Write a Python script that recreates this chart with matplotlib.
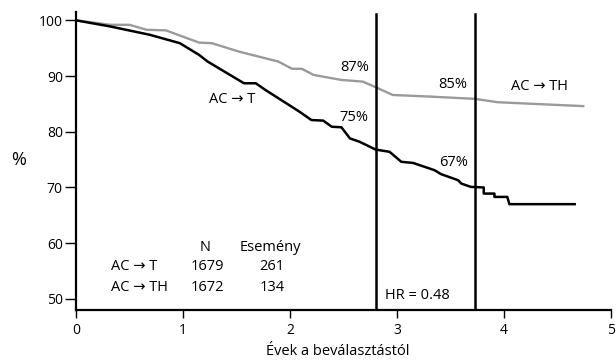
import matplotlib
matplotlib.use('Agg')
import matplotlib.pyplot as plt

plt.rcParams['font.family'] = ['Open Sans', 'DejaVu Sans']

# AC -> T (fekete görbe)
t_black = [0, 0.32, 0.69, 0.97, 1.15, 1.23, 1.57, 1.68, 1.77, 2.08, 2.20, 2.31,
           2.39, 2.48, 2.56, 2.65, 2.80, 2.93, 3.04, 3.15, 3.35, 3.41, 3.57,
           3.60, 3.69, 3.81, 3.81, 3.91, 3.91, 4.03, 4.05, 4.66]
s_black = [100, 98.9, 97.4, 95.9, 93.8, 92.6, 88.7, 88.7, 87.5, 83.7, 82.1, 82.0,
           80.9, 80.8, 78.8, 78.2, 76.8, 76.4, 74.6, 74.4, 73.1, 72.4, 71.3,
           70.7, 70.1, 70.0, 68.9, 68.9, 68.3, 68.3, 67.0, 67.0]

# AC -> TH (szürke görbe)
t_gray = [0, 0.32, 0.50, 0.66, 0.84, 1.15, 1.27, 1.52, 1.89, 2.02, 2.11, 2.22,
          2.48, 2.68, 2.80, 2.96, 3.32, 3.73, 3.94, 4.74]
s_gray = [100, 99.2, 99.2, 98.3, 98.2, 96.0, 95.9, 94.4, 92.6, 91.3, 91.3, 90.2,
          89.3, 89.0, 88.0, 86.6, 86.3, 85.9, 85.3, 84.6]

vline_x = [2.80, 3.73]
xticks = [0, 1, 2, 3, 4, 5]
yticks = [50, 60, 70, 80, 90, 100]

arm_names = ['AC \u2192 T', 'AC \u2192 TH']
arm_n = [1679, 1672]
arm_events = [261, 134]

fig = plt.figure(figsize=(6.16, 3.63), dpi=100)
ax = fig.add_axes([0.1234, 0.146, 0.8686, 0.821])

ax.plot(t_gray, s_gray, color='#9a9a9a', lw=1.7)
ax.plot(t_black, s_black, color='black', lw=1.8)
for xv in vline_x:
    ax.plot([xv, xv], [48, 101.2], color='black', lw=1.8)

ax.set_xlim(0, 5)
ax.set_ylim(48, 101.5)
ax.set_xticks(xticks)
ax.set_yticks(yticks)
for s in ['top', 'right']:
    ax.spines[s].set_visible(False)
for s in ['left', 'bottom']:
    ax.spines[s].set_linewidth(1.6)
ax.tick_params(axis='y', length=8, width=1, labelsize=10, pad=1.5)
ax.tick_params(axis='x', length=6, width=1, labelsize=10, pad=3)

fs = 10.5
ax.text(2.60, 91.6, '87%', ha='center', va='center', fontsize=fs)
ax.text(3.52, 88.4, '85%', ha='center', va='center', fontsize=fs)
ax.text(2.60, 82.5, '75%', ha='center', va='center', fontsize=fs)
ax.text(3.53, 74.5, '67%', ha='center', va='center', fontsize=fs)
ax.text(4.33, 88.1, arm_names[1], ha='center', va='center', fontsize=fs)
ax.text(1.46, 85.7, arm_names[0], ha='center', va='center', fontsize=fs)
ax.text(3.19, 50.6, 'HR = 0.48', ha='center', va='center', fontsize=fs)

ax.text(1.21, 59.3, 'N', ha='center', va='center', fontsize=fs)
ax.text(1.82, 59.3, 'Esemény', ha='center', va='center', fontsize=fs)
row_y = [55.8, 52.1]
for name, n, ev, yy in zip(arm_names, arm_n, arm_events, row_y):
    ax.text(0.33, yy, name, ha='left', va='center', fontsize=fs)
    ax.text(1.23, yy, str(n), ha='center', va='center', fontsize=fs)
    ax.text(1.83, yy, str(ev), ha='center', va='center', fontsize=fs)

fig.text(0.03, 0.56, '%', ha='center', va='center', fontsize=13)
fig.text(0.548, 0.033, 'Évek a beválasztástól', ha='center', va='center', fontsize=10.5)

fig.savefig('out.png', dpi=100)
